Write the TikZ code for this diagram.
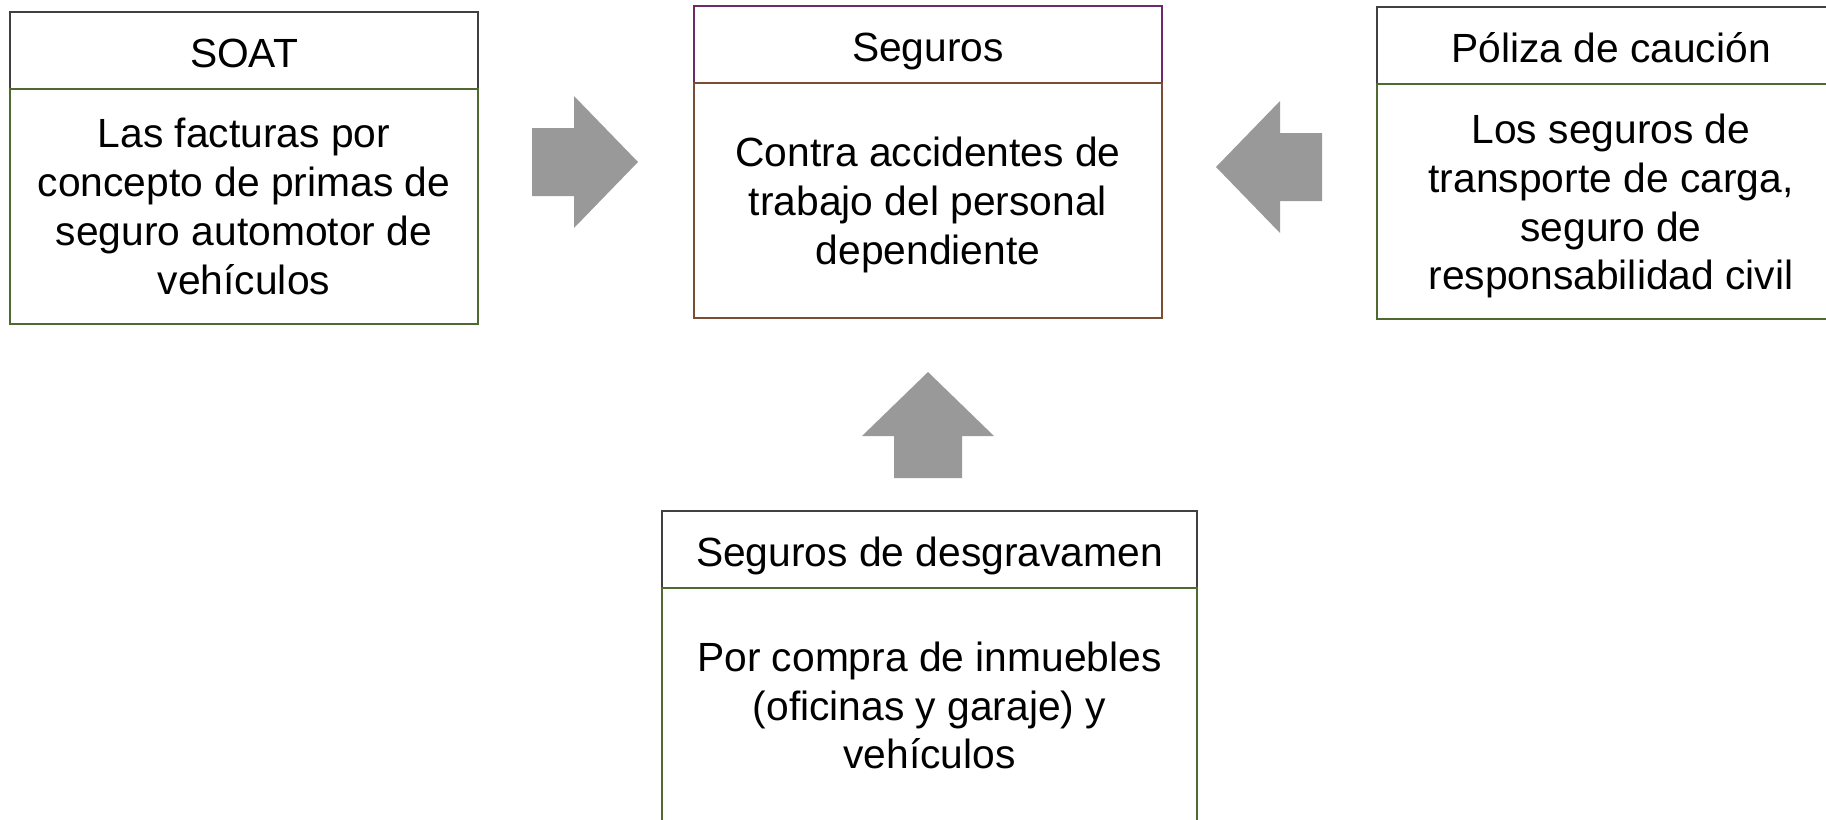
\documentclass[tikz,border=0pt]{standalone}
\usepackage{fontspec}
\setmainfont{Liberation Sans}
\usepackage{tikz}
\usetikzlibrary{positioning}

\definecolor{hdgray}{RGB}{64,64,64}
\definecolor{bodygreen}{RGB}{78,106,48}
\definecolor{segpurple}{RGB}{108,42,108}
\definecolor{segbrown}{RGB}{122,78,52}
\definecolor{arrowgray}{RGB}{153,153,153}

\tikzset{
    headbox/.style={draw=hdgray, line width=0.6pt, rectangle, outer sep=0pt,
        minimum width=4.68cm, minimum height=0.77cm, inner sep=0pt,
        text height=0.4cm, text depth=0.07cm},
    bodybox/.style={draw=bodygreen, line width=0.6pt, rectangle, outer sep=0pt,
        minimum width=4.68cm, minimum height=2.35cm, inner sep=0pt, align=center},
}

\begin{document}
\begin{tikzpicture}[font=\fontsize{11.6}{13.9}\selectfont]
        \clip (0,0) rectangle (18.26,-8.19);
        \useasboundingbox (0,0) rectangle (18.26,-8.19);
        % cabeceras
        \node[headbox, anchor=north west] (soatH) at (0.10,-0.12) {SOAT};
        \node[headbox, draw=segpurple, anchor=north west] (segH) at (6.94,-0.06) {Seguros};
        \node[headbox, anchor=north west] (polH) at (13.77,-0.07) {Póliza de caución};
        \node[headbox, minimum width=5.35cm, anchor=north west] (desH) at (6.62,-5.11) {Seguros de desgravamen};
        % cuerpos
        \node[bodybox, below=0pt of soatH] (soatB)
            {Las facturas por\\concepto de primas de\\seguro automotor de\\vehículos};
        \node[bodybox, draw=segbrown, below=0pt of segH] (segB)
            {\\[-0.1cm]Contra accidentes de\\trabajo del personal\\dependiente};
        \node[bodybox, below=0pt of polH] (polB)
            {\\[-0.1cm]Los seguros de\\transporte de carga,\\seguro de\\responsabilidad civil};
        \node[bodybox, minimum width=5.35cm, below=0pt of desH] (desB)
            {Por compra de inmuebles\\(oficinas y garaje) y\\vehículos};
        % flechas
        \foreach \pos/\ang in {{(6.38,-1.62)}/0, {(12.16,-1.67)}/180, {(9.28,-3.72)}/90}
        \fill[arrowgray, shift={\pos}, rotate=\ang]
            (0,0) -- (-0.64,0.66) -- (-0.64,0.34) -- (-1.06,0.34)
            -- (-1.06,-0.34) -- (-0.64,-0.34) -- (-0.64,-0.66) -- cycle;
    \end{tikzpicture}
\end{document}
